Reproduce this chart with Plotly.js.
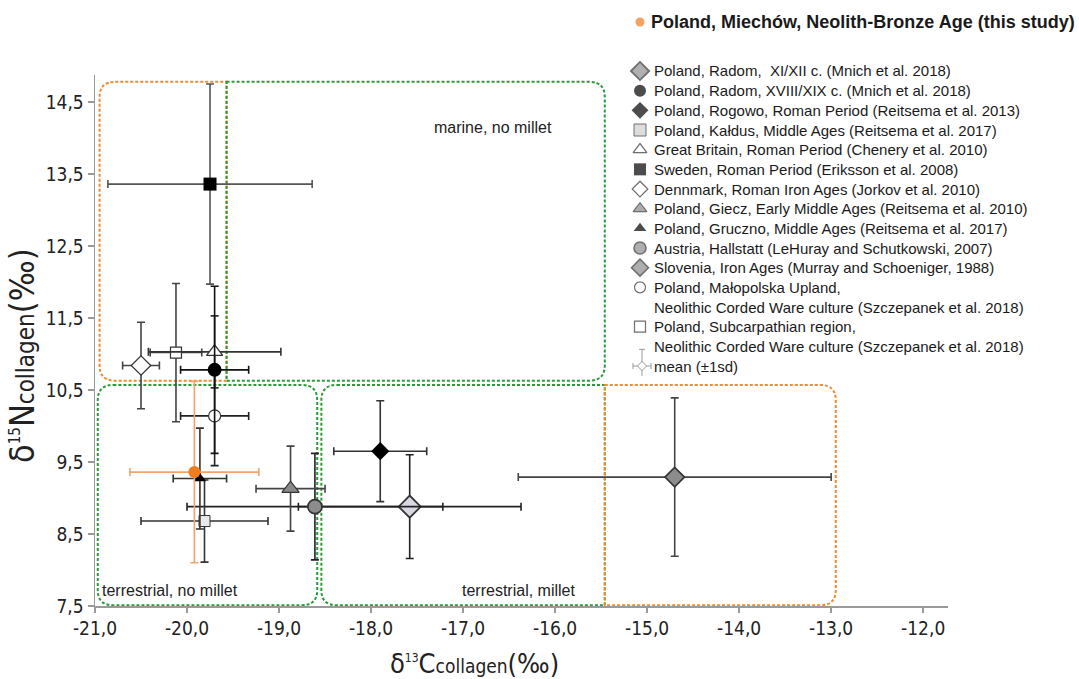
<!DOCTYPE html>
<html><head><meta charset="utf-8">
<script src="https://cdn.plot.ly/plotly-3.0.1.min.js"></script>
<style>html,body{margin:0;padding:0;background:#fff}#chart{width:1079px;height:679px}</style>
</head><body><div id="chart"></div>
<script>
// ---------- data ----------
const seriesNames = [
  'Poland, Miechów, Neolith-Bronze Age (this study)',
  'Poland, Radom,&nbsp; XI/XII c. (Mnich et al. 2018)',
  'Poland, Radom, XVIII/XIX c. (Mnich et al. 2018)',
  'Poland, Rogowo, Roman Period (Reitsema et al. 2013)',
  'Poland, Kałdus, Middle Ages (Reitsema et al. 2017)',
  'Great Britain, Roman Period (Chenery et al. 2010)',
  'Sweden, Roman Period (Eriksson et al. 2008)',
  'Dennmark, Roman Iron Ages (Jorkov et al. 2010)',
  'Poland, Giecz, Early Middle Ages (Reitsema et al. 2010)',
  'Poland, Gruczno, Middle Ages (Reitsema et al. 2017)',
  'Austria, Hallstatt (LeHuray and Schutkowski, 2007)',
  'Slovenia, Iron Ages (Murray and Schoeniger, 1988)',
  'Poland, Małopolska Upland,<br>Neolithic Corded Ware culture (Szczepanek et al. 2018)',
  'Poland, Subcarpathian region,<br>Neolithic Corded Ware culture (Szczepanek et al. 2018)'
];
const d13C = [-19.92, -17.58, -19.70, -17.90, -19.81, -19.70, -19.75, -20.50, -18.875, -19.86, -18.61, -14.70, -19.70, -20.12];
const d15N = [9.36, 8.88, 10.78, 9.65, 8.68, 11.03, 13.36, 10.84, 9.13, 9.27, 8.88, 9.29, 10.14, 11.02];
const sdC  = [0.70, 1.21, 0.37, 0.505, 0.69, 0.72, 1.11, 0.20, 0.375, 0.29, 1.39, 1.70, 0.37, 0.28];
const sdN  = [1.26, 0.72, 1.16, 0.70, 0.57, 0.50, 1.39, 0.60, 0.59, 0.70, 0.74, 1.10, 0.69, 0.96];
const meanLabel = 'mean (±1sd)';

const xTickVals = [-21, -20, -19, -18, -17, -16, -15, -14, -13, -12];
const xTickText = ['-21,0', '-20,0', '-19,0', '-18,0', '-17,0', '-16,0', '-15,0', '-14,0', '-13,0', '-12,0'];
const yTickVals = [7.5, 8.5, 9.5, 10.5, 11.5, 12.5, 13.5, 14.5];
const yTickText = ['7,5', '8,5', '9,5', '10,5', '11,5', '12,5', '13,5', '14,5'];

const xTitle = 'δ<sup><span style="font-size:12px">13</span></sup>C<span style="font-size:19px">collagen</span>(‰)';
const yTitle = 'δ<sup><span style="font-size:15px">15</span></sup>N<span style="font-size:24px">collagen</span>(‰)';

const regionLabels = ['marine, no millet', 'terrestrial, no millet', 'terrestrial, millet'];
const regionLabelC = [-16.68, -20.19, -16.40];
const regionLabelN = [14.14, 7.72, 7.72];

// region boxes: [x0, x1, y0, y1] in data units
const regionBoxes = [
  {b: [-20.95, -19.57, 10.63, 14.78], c: 'orange', r: {tl: 1, tr: 0, br: 0, bl: 1}},
  {b: [-19.57, -15.46, 10.63, 14.78], c: 'green',  r: {tl: 0, tr: 1, br: 1, bl: 0}},
  {b: [-20.97, -18.585, 7.51, 10.57], c: 'green',  r: {tl: 1, tr: 1, br: 1, bl: 1}},
  {b: [-18.54, -15.46, 7.51, 10.57],  c: 'green',  r: {tl: 1, tr: 0, br: 0, bl: 1}},
  {b: [-15.46, -12.95, 7.51, 10.57],  c: 'orange', r: {tl: 0, tr: 1, br: 1, bl: 0}}
];

// ---------- styles ----------
const W = 1079, H = 679;
const ORANGE = '#f28a2e', GREEN = '#2a9b38';
const styles = [
  {sym: 'circle', fill: '#ef7d1e', line: '#ef7d1e', lw: 0, size: 12, err: '#f3a36a'},
  {sym: 'diamond', fill: '#d9d8e2', line: '#333333', lw: 1.8, size: 17, err: '#222222'},
  {sym: 'circle', fill: '#000000', line: '#000000', lw: 0, size: 14, err: '#111111'},
  {sym: 'diamond', fill: '#000000', line: '#000000', lw: 0, size: 14, err: '#333333'},
  {sym: 'square', fill: '#e9e9e9', line: '#333333', lw: 1, size: 11, err: '#333333'},
  {sym: 'triangle-up', fill: '#ffffff', line: '#333333', lw: 1.3, size: 14, err: '#333333'},
  {sym: 'square', fill: '#000000', line: '#000000', lw: 0, size: 13, err: '#555555'},
  {sym: 'diamond', fill: '#ffffff', line: '#333333', lw: 1.2, size: 15, err: '#444444'},
  {sym: 'triangle-up', fill: '#8a8a8a', line: '#333333', lw: 1.2, size: 15, err: '#444444'},
  {sym: 'triangle-up', fill: '#000000', line: '#000000', lw: 0, size: 11, err: '#333333'},
  {sym: 'circle', fill: '#8c8c8c', line: '#333333', lw: 1.6, size: 14, err: '#222222'},
  {sym: 'diamond', fill: '#8c8c8c', line: '#333333', lw: 1.6, size: 15, err: '#444444'},
  {sym: 'circle', fill: '#ffffff', line: '#333333', lw: 1.2, size: 12, err: '#222222'},
  {sym: 'square', fill: '#ffffff', line: '#333333', lw: 1.2, size: 11, err: '#444444'}
];
const legendSizes = [9, 14, 12, 13, 12, 12, 12, 12, 12, 11, 12, 13, 11, 11];
const legendFills = styles.map((s, i) => i === 1 ? '#8f8f8f' : (i === 4 ? '#d0d0d0' : s.fill));

// plot area in pixels
const PX = {l: 95, r: 948, t: 75, b: 606};
// legend area in pixels (line step)
const LG = {l: 600, r: 1079, t: 10, b: 376, first: 71, step: 19.67, symX: 640, textX: 652};

const traces = [];
const order = [6, 13, 7, 5, 12, 2, 3, 1, 11, 10, 8, 4, 9, 0]; // drawing order
order.forEach(i => {
  const s = styles[i];
  traces.push({
    type: 'scatter', mode: 'markers',
    x: [d13C[i]], y: [d15N[i]],
    name: seriesNames[i].replace('<br>', ' '),
    showlegend: false,
    marker: {symbol: s.sym, size: s.size, color: s.fill, line: {color: s.line, width: s.lw}},
    error_x: {type: 'data', array: [sdC[i]], color: s.err, thickness: 1.6, width: 4},
    error_y: {type: 'data', array: [sdN[i]], color: s.err, thickness: 1.6, width: 4},
    hoverinfo: 'skip'
  });
});

// ---------- legend (drawn on its own hidden axes; row index = line number) ----------
const rowOf = [];
let line = 0;
rowOf[0] = -2.49;
for (let i = 1; i < seriesNames.length; i++) {
  rowOf[i] = line;
  line += seriesNames[i].split('<br>').length;
}
const meanRow = line;
const lgIdx = seriesNames.map((_, i) => i);
traces.push({
  type: 'scatter', mode: 'markers', xaxis: 'x2', yaxis: 'y2', showlegend: false, hoverinfo: 'skip',
  x: lgIdx.map(() => LG.symX - LG.l), y: lgIdx.map(i => rowOf[i]),
  marker: {
    symbol: lgIdx.map(i => styles[i].sym),
    size: legendSizes,
    color: legendFills,
    line: {color: lgIdx.map(i => styles[i].line), width: lgIdx.map(i => styles[i].lw)}
  }
});
traces.push({
  type: 'scatter', mode: 'markers', xaxis: 'x2', yaxis: 'y2', showlegend: false, hoverinfo: 'skip',
  x: [LG.symX + 2 - LG.l], y: [meanRow],
  marker: {symbol: 'diamond', size: 7, color: '#ffffff', line: {color: '#999999', width: 1}},
  error_x: {type: 'data', array: [9], color: '#999999', thickness: 1, width: 3},
  error_y: {type: 'data', array: [0.85], color: '#999999', thickness: 1, width: 3}
});

function boxPath(b, r) {
  const [x0, x1, y0, y1] = b;
  const rx = 0.17, ry = 0.21;
  let p = '';
  p += 'M' + (x0 + (r.tl ? rx : 0)) + ',' + y1;
  p += ' L' + (x1 - (r.tr ? rx : 0)) + ',' + y1;
  if (r.tr) p += ' Q' + x1 + ',' + y1 + ' ' + x1 + ',' + (y1 - ry);
  p += ' L' + x1 + ',' + (y0 + (r.br ? ry : 0));
  if (r.br) p += ' Q' + x1 + ',' + y0 + ' ' + (x1 - rx) + ',' + y0;
  p += ' L' + (x0 + (r.bl ? rx : 0)) + ',' + y0;
  if (r.bl) p += ' Q' + x0 + ',' + y0 + ' ' + x0 + ',' + (y0 + ry);
  p += ' L' + x0 + ',' + (y1 - (r.tl ? ry : 0));
  if (r.tl) p += ' Q' + x0 + ',' + y1 + ' ' + (x0 + rx) + ',' + y1;
  p += ' Z';
  return p;
}
const shapes = regionBoxes.map(rb => ({
  type: 'path', xref: 'x', yref: 'y', path: boxPath(rb.b, rb.r),
  line: {color: rb.c === 'orange' ? ORANGE : GREEN, width: 2, dash: '3px,2px'},
  fillcolor: 'rgba(0,0,0,0)', layer: 'below'
}));

const SANS = 'Liberation Sans, Arial, sans-serif';
const NARROW = 'Liberation Sans Narrow, Arial Narrow, DejaVu Sans Condensed, sans-serif';

const annotations = regionLabels.map((t, i) => ({
  x: regionLabelC[i], y: regionLabelN[i], xref: 'x', yref: 'y', text: t, showarrow: false,
  font: {family: SANS, size: 16, color: '#222'}
}));
// axis titles
annotations.push({xref: 'paper', yref: 'paper', x: 474 / W, y: 1 - 681 / H, text: xTitle, showarrow: false,
  font: {family: NARROW, size: 27, color: '#222'}});
annotations.push({xref: 'paper', yref: 'paper', x: 0 / W, y: 1 - 356 / H, text: yTitle, showarrow: false,
  textangle: -90, font: {family: NARROW, size: 34, color: '#222'}});
// legend texts
seriesNames.forEach((t, i) => {
  const lines = t.split('<br>');
  lines.forEach((ln, j) => {
    annotations.push({xref: 'x2', yref: 'y2', x: (i === 0 ? LG.textX - 3 : LG.textX) - LG.l, y: rowOf[i] + j,
      text: i === 0 ? '<b>' + ln + '</b>' : ln, showarrow: false, xanchor: 'left', yanchor: 'middle',
      font: {family: SANS, size: i === 0 ? 18 : 15, color: '#1a1a1a'}});
  });
});
annotations.push({xref: 'x2', yref: 'y2', x: LG.textX - LG.l, y: meanRow, text: meanLabel, showarrow: false,
  xanchor: 'left', yanchor: 'middle', font: {family: SANS, size: 15, color: '#1a1a1a'}});

const rowAt = py => (py - LG.first) / LG.step;

const layout = {
  width: W, height: H,
  margin: {l: 0, r: 0, t: 0, b: 0},
  paper_bgcolor: '#fff', plot_bgcolor: 'rgba(0,0,0,0)',
  font: {family: SANS, color: '#222'},
  showlegend: false,
  xaxis: {
    domain: [PX.l / W, PX.r / W], anchor: 'y',
    range: [-21, -11.73], showgrid: false, zeroline: false,
    showline: true, linecolor: '#9a9a9a', linewidth: 1.5,
    ticks: 'outside', ticklen: 5, tickcolor: '#9a9a9a', tickwidth: 1.5,
    tickvals: xTickVals, ticktext: xTickText,
    tickfont: {family: NARROW, size: 19, color: '#222'}
  },
  yaxis: {
    domain: [1 - PX.b / H, 1 - PX.t / H], anchor: 'x',
    range: [7.5, 14.875], showgrid: false, zeroline: false,
    showline: true, linecolor: '#9a9a9a', linewidth: 1.5,
    ticks: 'outside', ticklen: 6, tickcolor: '#9a9a9a', tickwidth: 1.5,
    tickvals: yTickVals, ticktext: yTickText,
    tickfont: {family: NARROW, size: 19, color: '#222'}
  },
  xaxis2: {domain: [LG.l / W, LG.r / W], anchor: 'y2', range: [0, LG.r - LG.l], visible: false, fixedrange: true},
  yaxis2: {domain: [1 - LG.b / H, 1 - LG.t / H], anchor: 'x2', range: [rowAt(LG.b), rowAt(LG.t)],
           visible: false, fixedrange: true},
  shapes: shapes,
  annotations: annotations
};

Plotly.newPlot('chart', traces, layout, {displayModeBar: false, staticPlot: true});
</script></body></html>
